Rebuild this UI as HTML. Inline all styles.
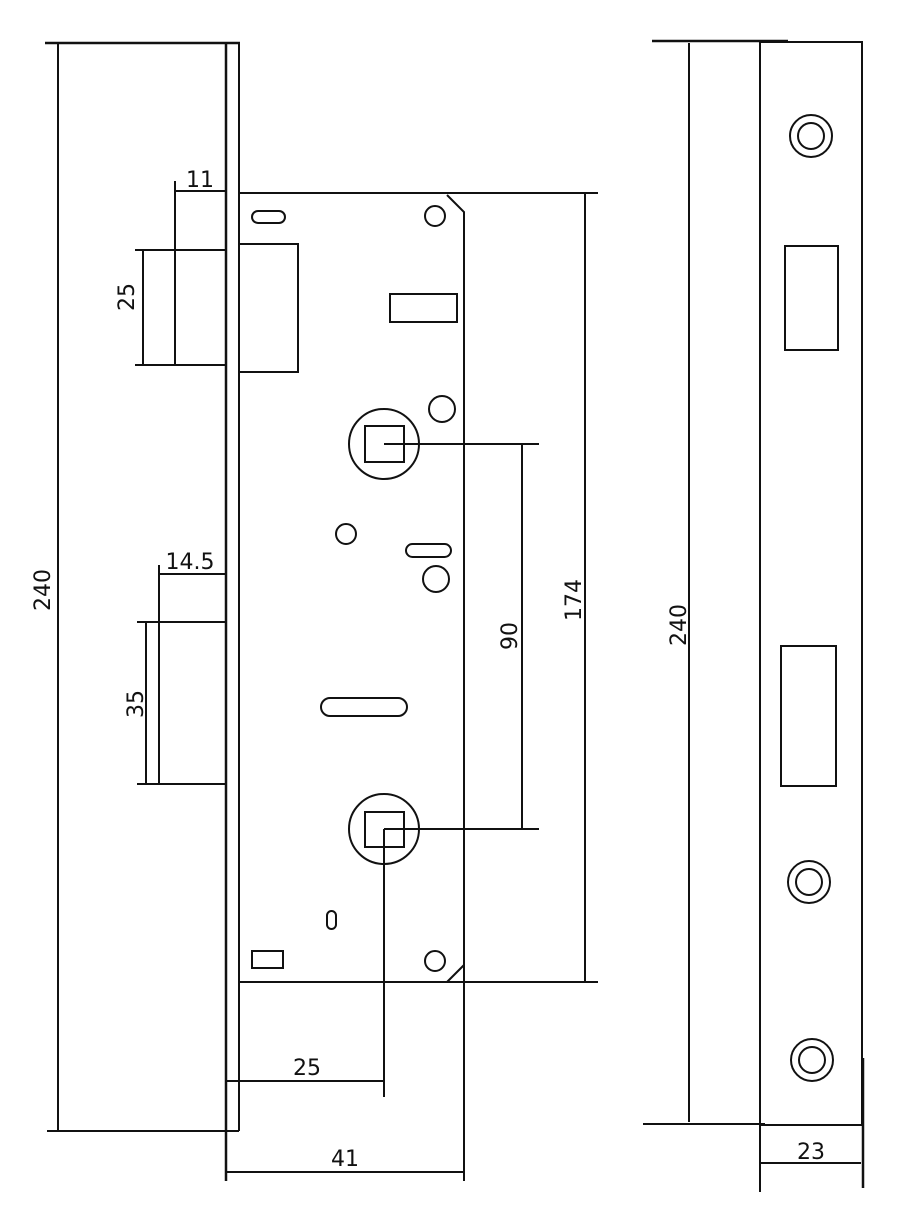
<!DOCTYPE html>
<html><head><style>html,body{margin:0;padding:0;background:#fff}svg{display:block}</style></head>
<body>
<svg width="905" height="1220" viewBox="0 0 905 1220" xmlns="http://www.w3.org/2000/svg" fill="none" stroke="#111" stroke-width="2" font-family="DejaVu Sans, Liberation Sans, sans-serif">
<line x1="45" y1="43" x2="240" y2="43" stroke-width="2.5"/>
<line x1="58" y1="43" x2="58" y2="1131"/>
<line x1="226" y1="43" x2="226" y2="1181" stroke-width="2.5"/>
<line x1="239" y1="43" x2="239" y2="1131"/>
<line x1="47" y1="1131" x2="239" y2="1131"/>
<line x1="239" y1="193" x2="598" y2="193"/>
<polyline points="447,195 464,212 464,1181"/>
<line x1="239" y1="982" x2="598" y2="982"/>
<line x1="447" y1="982" x2="464" y2="965"/>
<line x1="175" y1="181" x2="175" y2="365"/>
<line x1="175" y1="191" x2="226" y2="191"/>
<line x1="135" y1="250" x2="226" y2="250"/>
<line x1="135" y1="365" x2="226" y2="365"/>
<line x1="143" y1="250" x2="143" y2="365"/>
<rect x="239" y="244" width="59" height="128"/>
<line x1="159" y1="565" x2="159" y2="784"/>
<line x1="159" y1="574" x2="226" y2="574"/>
<line x1="137" y1="622" x2="226" y2="622"/>
<line x1="137" y1="784" x2="226" y2="784"/>
<line x1="146" y1="622" x2="146" y2="784"/>
<rect x="252" y="211" width="33" height="12" rx="6"/>
<circle cx="435" cy="216" r="10"/>
<rect x="390" y="294" width="67" height="28"/>
<circle cx="442" cy="409" r="13"/>
<circle cx="384" cy="444" r="35"/>
<rect x="365" y="426" width="39" height="36"/>
<line x1="384" y1="444" x2="539" y2="444"/>
<line x1="522" y1="444" x2="522" y2="828"/>
<circle cx="346" cy="534" r="10"/>
<rect x="406" y="544" width="45" height="13" rx="6.5"/>
<circle cx="436" cy="579" r="13"/>
<rect x="321" y="698" width="86" height="18" rx="9"/>
<circle cx="384" cy="829" r="35"/>
<rect x="365" y="812" width="39" height="35"/>
<line x1="384" y1="829" x2="539" y2="829"/>
<line x1="384" y1="829" x2="384" y2="1097"/>
<rect x="327" y="911" width="9" height="18" rx="4.5"/>
<rect x="252" y="951" width="31" height="17"/>
<circle cx="435" cy="961" r="10"/>
<line x1="585" y1="193" x2="585" y2="982"/>
<line x1="226" y1="1081" x2="384" y2="1081"/>
<line x1="226" y1="1172" x2="464" y2="1172"/>
<line x1="652" y1="41" x2="788" y2="41" stroke-width="2.5"/>
<line x1="689" y1="43" x2="689" y2="1122"/>
<rect x="760" y="42" width="102" height="1083"/>
<line x1="643" y1="1124" x2="765" y2="1124"/>
<line x1="760" y1="1060" x2="760" y2="1192"/>
<line x1="863" y1="1058" x2="863" y2="1188" stroke-width="2.5"/>
<line x1="760" y1="1163" x2="861" y2="1163"/>
<circle cx="811" cy="136" r="21"/><circle cx="811" cy="136" r="13"/>
<circle cx="809" cy="882" r="21"/><circle cx="809" cy="882" r="13"/>
<circle cx="812" cy="1060" r="21"/><circle cx="812" cy="1060" r="13"/>
<rect x="785" y="246" width="53" height="104"/>
<rect x="781" y="646" width="55" height="140"/>
<g fill="#111" stroke="none" font-size="22">
<text x="200" y="187" text-anchor="middle">11</text>
<text x="190" y="569" text-anchor="middle">14.5</text>
<text x="307" y="1075" text-anchor="middle">25</text>
<text x="345" y="1166" text-anchor="middle">41</text>
<text x="811" y="1159" text-anchor="middle">23</text>
<text transform="translate(134,297) rotate(-90)" text-anchor="middle">25</text>
<text transform="translate(143,704) rotate(-90)" text-anchor="middle">35</text>
<text transform="translate(50,590) rotate(-90)" text-anchor="middle">240</text>
<text transform="translate(517,636) rotate(-90)" text-anchor="middle">90</text>
<text transform="translate(581,600) rotate(-90)" text-anchor="middle">174</text>
<text transform="translate(686,625) rotate(-90)" text-anchor="middle">240</text>
</g>
</svg>
</body></html>
